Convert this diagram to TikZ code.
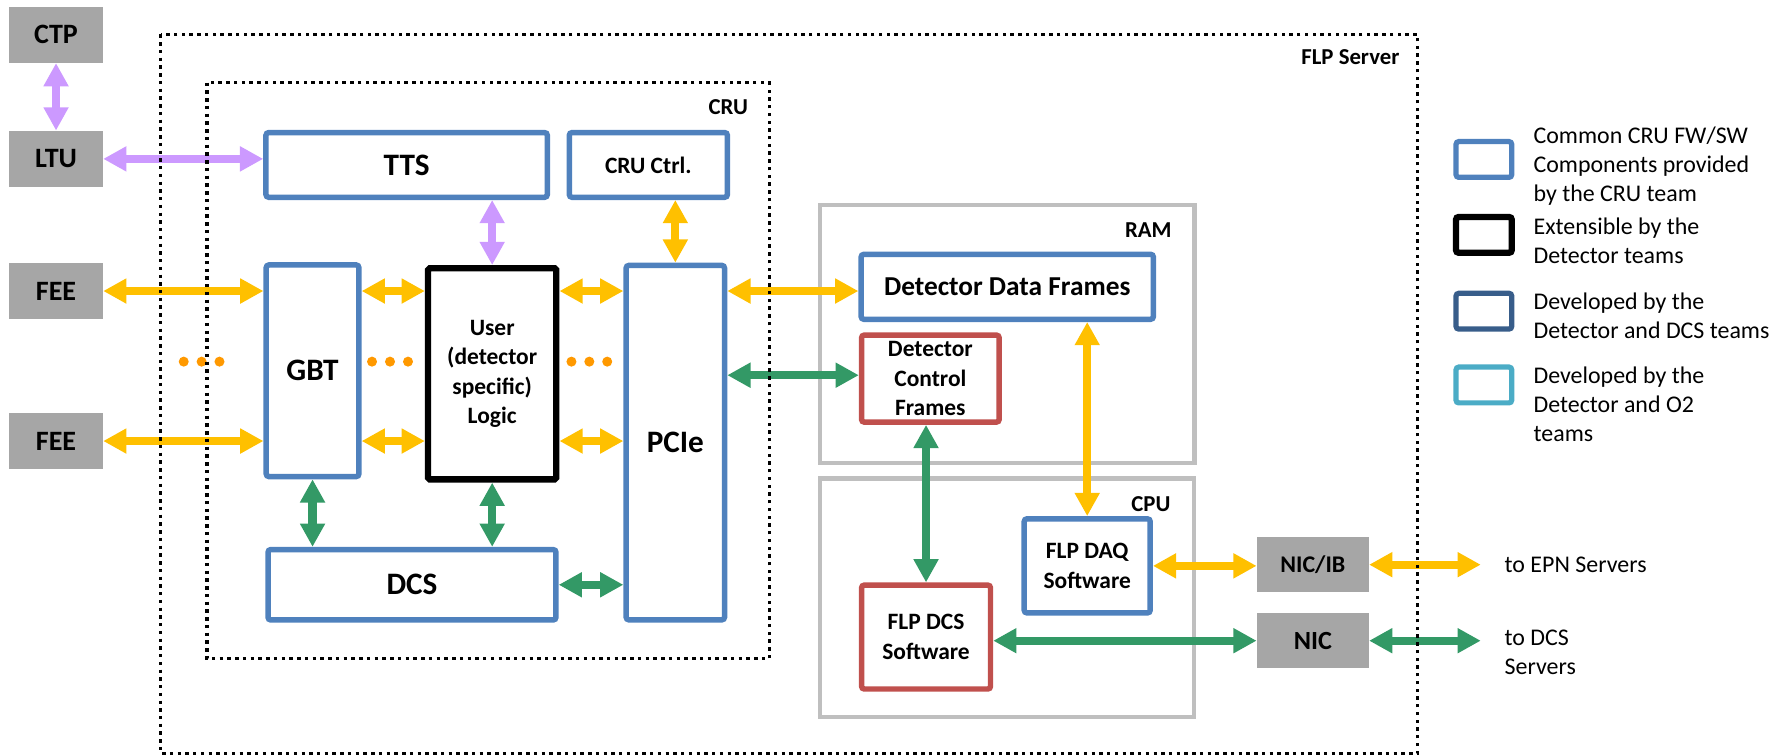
\documentclass[tikz,border=0pt]{standalone}
\usepackage{fontspec}
\setmainfont{Carlito}
\usetikzlibrary{arrows.meta}

\definecolor{cruBlue}{HTML}{4F81BD}
\definecolor{detRed}{HTML}{C0504D}
\definecolor{dcsBlue}{HTML}{385D8A}
\definecolor{otwoBlue}{HTML}{4BACC6}
\definecolor{extGray}{HTML}{A6A6A6}
\definecolor{frameGray}{HTML}{BFBFBF}
\definecolor{trigPurple}{HTML}{CC99FF}
\definecolor{dataYellow}{HTML}{FFC000}
\definecolor{ctrlGreen}{HTML}{339966}
\definecolor{dotOrange}{HTML}{FF9900}

\tikzset{
  blk/.style={draw, line width=2.4pt, rounded corners=1.2pt, fill=white, inner sep=0pt, align=center},
  cruBox/.style={blk, draw=cruBlue},
  detBox/.style={blk, draw=detRed},
  userBox/.style={blk, draw=black, line width=2.8pt, rounded corners=0.8pt},
  extBox/.style={fill=extGray, inner sep=0pt, minimum width=41pt, minimum height=24.5pt,
                 font=\bfseries\fontsize{12.3}{15}\selectfont},
  bigtxt/.style={font=\bfseries\fontsize{13.7}{16}\selectfont},
  smalltxt/.style={font=\bfseries\fontsize{10.3}{13}\selectfont},
  areaTitle/.style={font=\bfseries\fontsize{10}{12}\selectfont, inner sep=0pt, anchor=east},
  memFrame/.style={draw=frameGray, line width=2pt},
  encl/.style={draw=black, line width=1.5pt, dash pattern=on 1.5pt off 1.9pt},
  link/.style={line width=3.6pt, {Triangle[length=10.2pt,width=10.4pt]}-{Triangle[length=10.2pt,width=10.4pt]}},
  trigLink/.style={link, draw=trigPurple},
  dataLink/.style={link, draw=dataYellow},
  ctrlLink/.style={link, draw=ctrlGreen},
  legBox/.style={draw, line width=2.3pt, rounded corners=1.2pt, minimum width=24.45pt,
                 minimum height=15.7pt, inner sep=0pt},
  sideText/.style={font=\fontsize{10.5}{12.7}\selectfont, align=left, anchor=west, inner sep=0pt},
}

\begin{document}
\begin{tikzpicture}[x=0.5pt, y=-0.5pt]
\useasboundingbox (0,0) rectangle (1568,663);

% memory and processor areas of the server
\draw[memFrame] (720,180) rectangle (1048.5,406.5);
\draw[memFrame] (720,420) rectangle (1048.3,629.5);

% external systems
\node[extBox] (ctp)  at (49.2,30.5)  {CTP};
\node[extBox] (ltu)  at (49.2,139.5) {LTU};
\node[extBox] (fee1) at (49.2,255.5) {FEE};
\node[extBox] (fee2) at (49.2,387.2) {FEE};

% CRU firmware blocks
\node[cruBox, bigtxt, minimum width=123.5pt, minimum height=28.4pt] (tts) at (357,144.8) {TTS};
\node[cruBox, smalltxt, minimum width=69.4pt, minimum height=28.4pt] (ctrl) at (569.2,144.8) {CRU Ctrl.};
\node[cruBox, bigtxt, minimum width=40.7pt, minimum height=92.9pt] (gbt) at (274.4,325.5) {GBT};
\node[userBox, smalltxt, minimum width=56.3pt, minimum height=92.7pt] (user) at (432.1,328.2)
  {User\\(detector\\specific)\\Logic};
\node[cruBox, bigtxt, minimum width=43.2pt, minimum height=155.6pt] (pcie) at (592.9,388.6) {PCIe};
\node[cruBox, bigtxt, minimum width=126.4pt, minimum height=30.9pt] (dcs) at (361.7,513.4) {DCS};

% host memory and software
\node[cruBox, font=\bfseries\fontsize{12}{14}\selectfont, minimum width=128.3pt, minimum height=28.5pt]
  (ddf) at (884.3,251.8) {Detector Data Frames};
\node[detBox, smalltxt, minimum width=60.4pt, minimum height=38.2pt] (dcf) at (816.8,332.4)
  {Detector\\Control\\Frames};
\node[cruBox, smalltxt, minimum width=55.3pt, minimum height=41.3pt] (daq) at (954.5,496.8)
  {FLP DAQ\\Software};
\node[detBox, smalltxt, minimum width=56.6pt, minimum height=45.6pt] (dcssw) at (813,559.3)
  {FLP DCS\\Software};

% network interfaces
\node[extBox, font=\bfseries\fontsize{10.5}{13}\selectfont, minimum width=49pt, minimum height=24.25pt]
  (nicib) at (1152.6,495.75) {NIC/IB};
\node[extBox, font=\bfseries\fontsize{11.5}{13}\selectfont, minimum width=49pt, minimum height=24.25pt]
  (nic) at (1152.6,562.5) {NIC};
\coordinate (epn) at (1300,495.75);
\coordinate (dcsout) at (1300,562.5);
\coordinate (dcfIn) at ([yshift=1.5pt]dcf.west);

% trigger links
\draw[trigLink] (ctp.south) -- (ltu.north);
\draw[trigLink] (ltu.east) -- (ltu.east -| tts.west);
\draw[trigLink] (tts.south -| user.north) -- (user.north);

% data links
\draw[dataLink] (ctrl.south -| pcie.north) -- (pcie.north);
\draw[dataLink] (fee1.east) -- (fee1.east -| gbt.west);
\draw[dataLink] (fee1.east -| gbt.east) -- (fee1.east -| user.west);
\draw[dataLink] (fee1.east -| user.east) -- (fee1.east -| pcie.west);
\draw[dataLink] (fee1.east -| pcie.east) -- (fee1.east -| ddf.west);
\draw[dataLink] (fee2.east) -- (fee2.east -| gbt.west);
\draw[dataLink] (fee2.east -| gbt.east) -- (fee2.east -| user.west);
\draw[dataLink] (fee2.east -| user.east) -- (fee2.east -| pcie.west);
\draw[dataLink] (ddf.south -| daq.north) -- (daq.north);
\draw[dataLink] (daq.east) -- (daq.east -| nicib.west);
\draw[dataLink] (nicib.east) -- (epn);

% control links
\draw[ctrlLink] (dcfIn -| pcie.east) -- (dcfIn);
\draw[ctrlLink] (gbt.south) -- (gbt.south |- dcs.north);
\draw[ctrlLink] (user.south) -- (user.south |- dcs.north);
\draw[ctrlLink] (dcs.east) -- (dcs.east -| pcie.west);
\draw[ctrlLink] (dcf.south -| dcssw.north) -- (dcssw.north);
\draw[ctrlLink] (nic.west -| dcssw.east) -- (nic.west);
\draw[ctrlLink] (nic.east) -- (dcsout);

% further links not shown
\foreach \x in {161.3,177,192.7,326.6,342.4,358.2,501.7,517.4,533.1}
  \fill[dotOrange] (\x,317.5) circle[radius=2.2pt];

% enclosures
\draw[encl] (141.1,30.2) rectangle (1244.4,661.4);
\draw[encl] (181.8,72.6) rectangle (675.4,578.3);
\node[areaTitle] (flpT) at (1229,50) {FLP Server};
\node[areaTitle] (cruT) at (657,94) {CRU};
\node[areaTitle] (ramT) at (1029,202) {RAM};
\node[areaTitle] (cpuT) at (1028,443) {CPU};

% legend
\node[legBox, draw=cruBlue] (lg1) at (1302.75,140) {};
\node[legBox, draw=black, line width=2.8pt] (lg2) at (1302.75,206.2) {};
\node[legBox, draw=dcsBlue] (lg3) at (1302.75,273.2) {};
\node[legBox, draw=otwoBlue] (lg4) at (1302.75,338) {};
\node[sideText] (lt1) at (1346,146) {Common CRU FW/SW\\Components provided\\by the CRU team};
\node[sideText] (lt2) at (1346,211.5) {Extensible by the\\Detector teams};
\node[sideText] (lt3) at (1346,277.5) {Developed by the\\Detector and DCS teams};
\node[sideText] (lt4) at (1346,355) {Developed by the\\Detector and O2\\teams};

% destinations
\node[sideText] (epnT) at (1320.6,495.5) {to EPN Servers};
\node[sideText] (dcsT) at (1320.6,572.5) {to DCS\\Servers};
\end{tikzpicture}
\end{document}
